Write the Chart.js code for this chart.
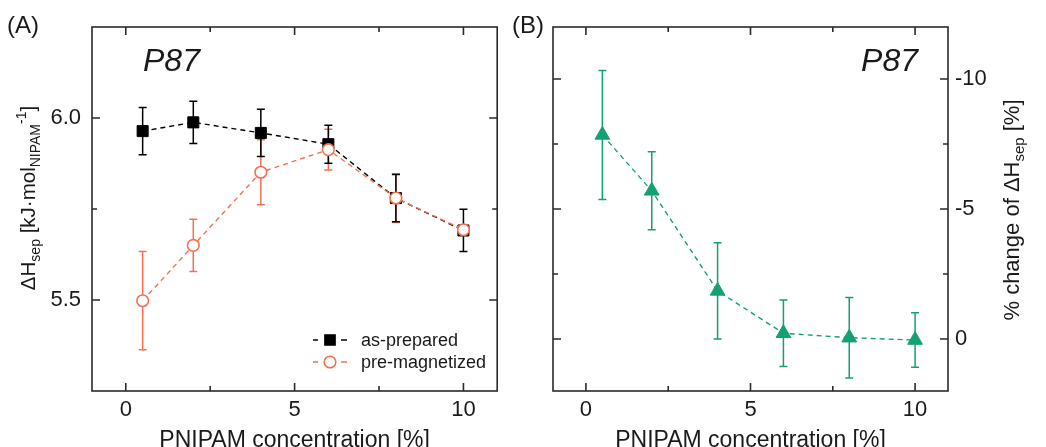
<!DOCTYPE html>
<html>
<head>
<meta charset="utf-8">
<script src="https://cdn.jsdelivr.net/npm/chart.js@4.4.1/dist/chart.umd.min.js"></script>
<style>
  body { margin: 0; background: #fff; width: 1046px; height: 447px; overflow: hidden; position: relative; }
  #chartA { position: absolute; left: 0; top: 0; }
  #chartB { position: absolute; left: 506px; top: 0; }
</style>
</head>
<body>
<canvas id="chartA" width="506" height="447"></canvas>
<canvas id="chartB" width="540" height="447"></canvas>
<script>
// PNIPAM concentration [%]
const conc = [0.5, 2, 4, 6, 8, 10];

// panel A: ΔHsep [kJ/mol NIPAM]
const asPrepared    = [5.964, 5.988, 5.959, 5.928, 5.780, 5.691];
const asPreparedErr = [0.065, 0.058, 0.065, 0.052, 0.065, 0.058];
const preMag        = [5.498, 5.650, 5.851, 5.913, 5.780, 5.693];
const preMagErr     = [0.135, 0.072, 0.089, 0.056, 0.067, 0.010];

// panel B: % change of ΔHsep
const change    = [-7.85, -5.70, -1.85, -0.22, -0.05, 0.04];
const changeErr = [2.48, 1.50, 1.85, 1.28, 1.55, 1.05];

// ticks
const xMajor = [0, 5, 10];
const xMinor = [2.5, 7.5];
const yMajorA = [5.5, 6.0];
const yMinorA = [5.75];
const yMajorB = [-10, -5, 0];
const yMinorB = [-7.5, -2.5];

const FONT = "'Liberation Sans', Arial, sans-serif";
const TEXT = '#1a1a1a';
const ORANGE = '#f4704f';
const GREEN = '#14a171';

Chart.defaults.font.family = FONT;
Chart.defaults.color = TEXT;

function pts(xs, ys) {
    return xs.map((x, i) => ({ x: x, y: ys[i] }));
}

// error bars from dataset.errors
const errorBars = {
    id: 'errorBars',
    beforeDatasetsDraw(chart) {
        const ctx = chart.ctx;
        const xs = chart.scales.x, ys = chart.scales.y;
        chart.data.datasets.forEach((ds) => {
            if (!ds.errors) return;
            ctx.save();
            ctx.strokeStyle = ds.borderColor;
            ctx.lineWidth = 1.5;
            ds.data.forEach((p, i) => {
                const e = ds.errors[i];
                const px = xs.getPixelForValue(p.x);
                const y1 = ys.getPixelForValue(p.y - e);
                const y2 = ys.getPixelForValue(p.y + e);
                ctx.beginPath();
                ctx.moveTo(px, y1); ctx.lineTo(px, y2);
                ctx.moveTo(px - 4, y1); ctx.lineTo(px + 4, y1);
                ctx.moveTo(px - 4, y2); ctx.lineTo(px + 4, y2);
                ctx.stroke();
            });
            ctx.restore();
        });
    }
};

// text with sub/superscripts, centred along its baseline
function richText(ctx, parts, x, y, rot, size) {
    ctx.save();
    ctx.translate(x, y);
    ctx.rotate(rot);
    ctx.fillStyle = TEXT;
    ctx.textBaseline = 'alphabetic';
    ctx.textAlign = 'left';
    let total = 0;
    parts.forEach(p => {
        ctx.font = (p.s || size) + 'px ' + FONT;
        p.w = ctx.measureText(p.t).width;
        total += p.w;
    });
    let cx = -total / 2;
    parts.forEach(p => {
        ctx.font = (p.s || size) + 'px ' + FONT;
        ctx.fillText(p.t, cx, p.dy || 0);
        cx += p.w;
    });
    ctx.restore();
}

function frame(opts) {
    return {
        id: 'frame',
        afterDraw(chart) {
            const ctx = chart.ctx;
            const a = chart.chartArea;
            const xs = chart.scales.x, ys = chart.scales.y;
            ctx.save();
            ctx.strokeStyle = '#2a2a2a';
            ctx.lineWidth = 1.6;
            ctx.strokeRect(a.left, a.top, a.right - a.left, a.bottom - a.top);
            ctx.beginPath();
            const tx = (v, len) => {
                const p = xs.getPixelForValue(v);
                ctx.moveTo(p, a.bottom); ctx.lineTo(p, a.bottom - len);
                ctx.moveTo(p, a.top); ctx.lineTo(p, a.top + len);
            };
            const ty = (v, len) => {
                const p = ys.getPixelForValue(v);
                ctx.moveTo(a.left, p); ctx.lineTo(a.left + len, p);
                ctx.moveTo(a.right, p); ctx.lineTo(a.right - len, p);
            };
            xMajor.forEach(v => tx(v, 8));
            xMinor.forEach(v => tx(v, 5));
            opts.yMajor.forEach(v => ty(v, 8));
            opts.yMinor.forEach(v => ty(v, 5));
            ctx.stroke();

            // panel letter and sample label
            ctx.fillStyle = TEXT;
            ctx.textBaseline = 'alphabetic';
            ctx.font = '24px ' + FONT;
            ctx.textAlign = 'left';
            ctx.fillText(opts.letter, opts.letterX, 33);
            ctx.font = 'italic 32px ' + FONT;
            ctx.textAlign = opts.p87Align;
            ctx.fillText('P87', opts.p87X, 71);

            // x title
            ctx.font = '23px ' + FONT;
            ctx.textAlign = 'center';
            ctx.fillText('PNIPAM concentration [%]', (a.left + a.right) / 2, 447);
            ctx.restore();

            richText(ctx, opts.yTitle, opts.yTitleX, opts.yTitleY, -Math.PI / 2, opts.yTitleSize);
            if (opts.legend) opts.legend(ctx, chart);
        }
    };
}

function drawLegend(ctx, chart) {
    const rows = [
        { label: 'as-prepared', color: '#000', style: 'rect', r: 7.2, fill: '#000', y: 340 },
        { label: 'pre-magnetized', color: ORANGE, style: 'circle', r: 5.8, fill: '#fff', y: 362 }
    ];
    rows.forEach(r => {
        ctx.save();
        ctx.strokeStyle = r.color;
        ctx.lineWidth = 1.4;
        ctx.beginPath();
        ctx.moveTo(313, r.y); ctx.lineTo(318, r.y);
        ctx.moveTo(341, r.y); ctx.lineTo(347, r.y);
        ctx.stroke();
        ctx.fillStyle = r.fill;
        ctx.lineWidth = 1.5;
        Chart.helpers.drawPoint(ctx, { pointStyle: r.style, radius: r.r, borderWidth: 1.5 }, 330, r.y);
        ctx.fillStyle = TEXT;
        ctx.font = '18px ' + FONT;
        ctx.textAlign = 'left';
        ctx.textBaseline = 'middle';
        ctx.fillText(r.label, 361, r.y + 1);
        ctx.restore();
    });
}

function xScale() {
    return {
        type: 'linear', min: -1, max: 11,
        grid: { display: false, drawTicks: false },
        border: { display: false },
        afterBuildTicks: s => { s.ticks = xMajor.map(v => ({ value: v })); },
        afterFit: s => { s.height = 56; },
        ticks: { padding: 6, font: { size: 22 }, color: TEXT }
    };
}

new Chart(document.getElementById('chartA'), {
    type: 'line',
    data: {
        datasets: [
            {
                label: 'pre-magnetized',
                data: pts(conc, preMag),
                errors: preMagErr,
                order: 0,
                borderColor: ORANGE,
                backgroundColor: '#fff',
                borderWidth: 1.4,
                borderDash: [5, 4],
                pointStyle: 'circle',
                pointRadius: 5.8,
                pointBorderWidth: 1.6,
                pointBorderColor: ORANGE,
                pointBackgroundColor: '#fff'
            },
            {
                label: 'as-prepared',
                data: pts(conc, asPrepared),
                errors: asPreparedErr,
                order: 1,
                borderColor: '#000',
                backgroundColor: '#000',
                borderWidth: 1.4,
                borderDash: [5, 4],
                pointStyle: 'rect',
                pointRadius: 7.8,
                pointBorderWidth: 1,
                pointBackgroundColor: '#000'
            }
        ]
    },
    options: {
        responsive: false,
        animation: false,
        layout: { padding: { top: 27, right: 2, left: 0, bottom: 0 } },
        plugins: { legend: { display: false }, tooltip: { enabled: false } },
        scales: {
            x: xScale(),
            y: {
                type: 'linear', min: 5.25, max: 6.25,
                grid: { display: false, drawTicks: false },
                border: { display: false },
                afterBuildTicks: s => { s.ticks = yMajorA.map(v => ({ value: v })); },
                afterFit: s => { s.width = 92; },
                ticks: { padding: 11, font: { size: 22 }, color: TEXT, callback: v => v.toFixed(1) }
            }
        }
    },
    plugins: [errorBars, frame({
        letter: '(A)', letterX: 7, p87X: 143, p87Align: 'left',
        yMajor: yMajorA, yMinor: yMinorA,
        yTitle: [
            { t: '\u0394H' }, { t: 'sep', s: 14, dy: 5 },
            { t: ' [kJ\u00b7mol' }, { t: 'NIPAM', s: 14, dy: 5 },
            { t: '-1', s: 14, dy: -9 }, { t: ']' }
        ],
        yTitleX: 35, yTitleY: 198, yTitleSize: 20.5,
        legend: drawLegend
    })]
});

new Chart(document.getElementById('chartB'), {
    type: 'line',
    data: {
        datasets: [
            {
                label: '% change',
                data: pts(conc, change),
                errors: changeErr,
                borderColor: GREEN,
                backgroundColor: GREEN,
                borderWidth: 1.4,
                borderDash: [5, 4],
                pointStyle: 'triangle',
                pointRadius: 8.5,
                pointBorderWidth: 1,
                pointBackgroundColor: GREEN
            }
        ]
    },
    options: {
        responsive: false,
        animation: false,
        layout: { padding: { top: 27, right: 0, left: 47, bottom: 0 } },
        plugins: { legend: { display: false }, tooltip: { enabled: false } },
        scales: {
            x: xScale(),
            y: {
                type: 'linear', min: -12, max: 2, reverse: true, position: 'right',
                grid: { display: false, drawTicks: false },
                border: { display: false },
                afterBuildTicks: s => { s.ticks = yMajorB.map(v => ({ value: v })); },
                afterFit: s => { s.width = 98; },
                ticks: { padding: 7, font: { size: 22 }, color: TEXT, callback: v => String(v) }
            }
        }
    },
    plugins: [errorBars, frame({
        letter: '(B)', letterX: 6, p87X: 412, p87Align: 'right',
        yMajor: yMajorB, yMinor: yMinorB,
        yTitle: [
            { t: '% change of \u0394H' }, { t: 'sep', s: 15, dy: 5 }, { t: ' [%]' }
        ],
        yTitleX: 513, yTitleY: 210, yTitleSize: 22
    })]
});
</script>
</body>
</html>
